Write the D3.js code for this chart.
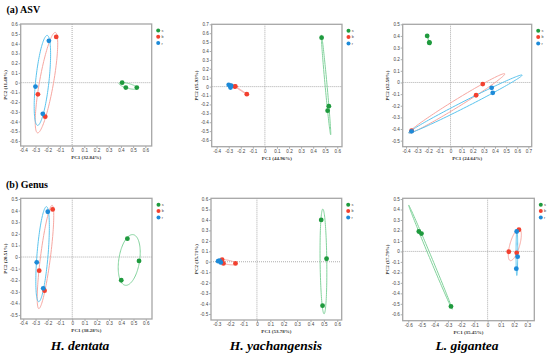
<!DOCTYPE html>
<html>
<head>
<meta charset="utf-8">
<script src="https://cdnjs.cloudflare.com/ajax/libs/d3/7.8.5/d3.min.js"></script>
<style>
  body { margin: 0; background: #fff; }
  svg { display: block; }
</style>
</head>
<body>
<div id="chart"></div>
<script>
// groups (legend)
var groups = ["s", "b", "r"];
var groupColors = ["#1f9a3e", "#f2402f", "#1d8ad8"];
var ellipseColors = ["#82d39c", "#f7a7a1", "#5cc4ee"];

// points: [group, PC1, PC2]
var asvDentata = [
  ["s", 0.41, 0.00], ["s", 0.44, -0.05], ["s", 0.53, -0.05],
  ["b", -0.13, 0.47], ["b", -0.28, -0.12], ["b", -0.22, -0.35],
  ["r", -0.19, 0.43], ["r", -0.30, -0.04], ["r", -0.24, -0.32]
];
var asvYachang = [
  ["s", 0.47, 0.55], ["s", 0.53, -0.22], ["s", 0.52, -0.27],
  ["b", -0.25, 0.00], ["b", -0.245, 0.003], ["b", -0.15, -0.085],
  ["r", -0.30, 0.02], ["r", -0.28, 0.01], ["r", -0.285, -0.01]
];
var asvGigantea = [
  ["s", -0.21, 0.40], ["s", -0.19, 0.34], ["s", -0.19, 0.345],
  ["b", 0.29, -0.014], ["b", 0.23, -0.11], ["b", -0.35, -0.415],
  ["r", 0.37, -0.046], ["r", 0.38, -0.089], ["r", -0.35, -0.42]
];
var genDentata = [
  ["s", 0.45, 0.158], ["s", 0.545, -0.034], ["s", 0.40, -0.20],
  ["b", -0.16, 0.41], ["b", -0.27, -0.118], ["b", -0.226, -0.29],
  ["r", -0.20, 0.39], ["r", -0.29, -0.046], ["r", -0.237, -0.27]
];
var genYachang = [
  ["s", 0.48, 0.40], ["s", 0.52, 0.029], ["s", 0.49, -0.42],
  ["b", -0.26, 0.02], ["b", -0.25, -0.016], ["b", -0.16, -0.016],
  ["r", -0.28, 0.01], ["r", -0.27, -0.006], ["r", -0.29, 0.006]
];
var genGigantea = [
  ["s", -0.52, 0.19], ["s", -0.50, 0.17], ["s", -0.277, -0.525],
  ["b", 0.237, 0.207], ["b", 0.16, -0.003], ["b", 0.22, -0.013],
  ["r", 0.22, 0.19], ["r", 0.227, -0.05], ["r", 0.217, -0.165]
];

// tick labels
var xTicks1 = [-0.4, -0.3, -0.2, -0.1, 0, 0.1, 0.2, 0.3, 0.4, 0.5, 0.6];
var yTicks1 = [0.6, 0.5, 0.4, 0.3, 0.2, 0.1, 0, -0.1, -0.2, -0.3, -0.4, -0.5, -0.6];
var xTicks2 = [-0.4, -0.3, -0.2, -0.1, 0, 0.1, 0.2, 0.3, 0.4, 0.5, 0.6];
var yTicks2 = [0.7, 0.6, 0.5, 0.4, 0.3, 0.2, 0.1, 0, -0.1, -0.2, -0.3, -0.4, -0.5, -0.6];
var xTicks3 = [-0.4, -0.3, -0.2, -0.1, 0, 0.1, 0.2, 0.3, 0.4, 0.5, 0.6, 0.7];
var yTicks3 = [0.5, 0.4, 0.3, 0.2, 0.1, 0, -0.1, -0.2, -0.3, -0.4, -0.5];
var xTicks4 = [-0.4, -0.3, -0.2, -0.1, 0, 0.1, 0.2, 0.3, 0.4, 0.5, 0.6];
var yTicks4 = [0.5, 0.4, 0.3, 0.2, 0.1, 0, -0.1, -0.2, -0.3, -0.4, -0.5];
var xTicks5 = [-0.3, -0.2, -0.1, 0, 0.1, 0.2, 0.3, 0.4, 0.5, 0.6];
var yTicks5 = [0.6, 0.5, 0.4, 0.3, 0.2, 0.1, 0, -0.1, -0.2, -0.3, -0.4, -0.5];
var xTicks6 = [-0.6, -0.5, -0.4, -0.3, -0.2, -0.1, 0, 0.1, 0.2, 0.3];
var yTicks6 = [0.5, 0.4, 0.3, 0.2, 0.1, 0, -0.1, -0.2, -0.3, -0.4, -0.5, -0.6];

var xLabels = ["PC1 (32.84%)", "PC1 (44.96%)", "PC1 (24.64%)", "PC1 (38.28%)", "PC1 (53.78%)", "PC1 (35.45%)"];
var yLabels = ["PC2 (11.48%)", "PC2 (15.93%)", "PC2 (12.58%)", "PC2 (20.51%)", "PC2 (15.71%)", "PC2 (17.79%)"];
var species = ["H. dentata", "H. yachangensis", "L. gigantea"];

var w = 550, h = 353;
var svg = d3.select("#chart").append("svg")
    .attr("width", w)
    .attr("height", h);

// panel layout: frame box and axis domains
var panels = [
  { data: asvDentata, xt: xTicks1, yt: yTicks1, box: [20.7, 24, 131, 122], xd: [-0.421, 0.652], yd: [-0.651, 0.603] },
  { data: asvYachang, xt: xTicks2, yt: yTicks2, box: [211.7, 24.3, 130.3, 122.4], xd: [-0.441, 0.639], yd: [-0.675, 0.7] },
  { data: asvGigantea, xt: xTicks3, yt: yTicks3, box: [402.7, 24.3, 129, 122.4], xd: [-0.43, 0.73], yd: [-0.552, 0.5] },
  { data: genDentata, xt: xTicks4, yt: yTicks4, box: [20.7, 198.3, 131.3, 120.7], xd: [-0.421, 0.651], yd: [-0.534, 0.506] },
  { data: genYachang, xt: xTicks5, yt: yTicks5, box: [211, 198.3, 130.7, 121.7], xd: [-0.343, 0.633], yd: [-0.557, 0.607] },
  { data: genGigantea, xt: xTicks6, yt: yTicks6, box: [402.7, 198.3, 131.6, 122.4], xd: [-0.642, 0.353], yd: [-0.661, 0.507] }
];

function fmt(d) {
    if (Math.abs(d) < 1e-9) return "0";
    return d.toFixed(1);
}

// confidence-style ellipse from the points of one group
function ellipsePoints(pts, k) {
    var n = pts.length;
    var mx = d3.mean(pts, function(p) { return p[1]; });
    var my = d3.mean(pts, function(p) { return p[2]; });
    var sxx = 0, syy = 0, sxy = 0;
    pts.forEach(function(p) {
        sxx += (p[1] - mx) * (p[1] - mx);
        syy += (p[2] - my) * (p[2] - my);
        sxy += (p[1] - mx) * (p[2] - my);
    });
    sxx /= (n - 1); syy /= (n - 1); sxy /= (n - 1);
    var tr = sxx + syy, det = sxx * syy - sxy * sxy;
    var disc = Math.sqrt(Math.max(tr * tr / 4 - det, 0));
    var l1 = tr / 2 + disc, l2 = Math.max(tr / 2 - disc, 0);
    var ang = Math.abs(sxy) < 1e-12 ? (sxx >= syy ? 0 : Math.PI / 2) : Math.atan2(l1 - sxx, sxy);
    var a = k * Math.sqrt(l1), b = k * Math.sqrt(l2);
    var out = [];
    for (var i = 0; i <= 120; i++) {
        var t = i / 120 * 2 * Math.PI;
        var ex = a * Math.cos(t), ey = b * Math.sin(t);
        out.push([mx + ex * Math.cos(ang) - ey * Math.sin(ang), my + ex * Math.sin(ang) + ey * Math.cos(ang)]);
    }
    return out;
}

panels.forEach(function(p, i) {
    var bx = p.box[0], by = p.box[1], bw = p.box[2], bh = p.box[3];
    var x = d3.scaleLinear().domain(p.xd).range([bx, bx + bw]);
    var y = d3.scaleLinear().domain(p.yd).range([by + bh, by]);
    var g = svg.append("g");

    // zero lines
    g.append("line")
        .attr("x1", x(0)).attr("x2", x(0))
        .attr("y1", by).attr("y2", by + bh)
        .attr("stroke", "#999").attr("stroke-width", 0.8)
        .attr("stroke-dasharray", "1,1");
    g.append("line")
        .attr("x1", bx).attr("x2", bx + bw)
        .attr("y1", y(0)).attr("y2", y(0))
        .attr("stroke", "#999").attr("stroke-width", 0.8)
        .attr("stroke-dasharray", "1,1");

    // axes
    var xAxis = d3.axisBottom(x).tickValues(p.xt).tickFormat(fmt).tickSize(2).tickSizeOuter(0);
    var yAxis = d3.axisLeft(y).tickValues(p.yt).tickFormat(fmt).tickSize(2).tickSizeOuter(0);
    var gx = g.append("g").attr("transform", "translate(0," + (by + bh) + ")").call(xAxis);
    var gy = g.append("g").attr("transform", "translate(" + bx + ",0)").call(yAxis);
    [gx, gy].forEach(function(ax) {
        ax.select(".domain").remove();
        ax.selectAll("line").attr("stroke", "#777").attr("stroke-width", 0.6);
        ax.selectAll("text")
            .attr("font-family", "Liberation Sans, Arial, sans-serif")
            .attr("font-size", "4.6px")
            .attr("fill", "#444");
    });
    gx.selectAll("text").attr("dy", "0.9em").attr("y", 2.2);
    gy.selectAll("text").attr("x", -2.8);

    // frame
    g.append("rect")
        .attr("x", bx).attr("y", by)
        .attr("width", bw).attr("height", bh)
        .attr("fill", "none")
        .attr("stroke", "#a6a6a6")
        .attr("stroke-width", 1.3);

    // ellipses
    var line = d3.line()
        .x(function(d) { return x(d[0]); })
        .y(function(d) { return y(d[1]); });
    groups.forEach(function(grp, gi) {
        var pts = p.data.filter(function(d) { return d[0] === grp; });
        g.append("path")
            .attr("d", line(ellipsePoints(pts, 1.22)))
            .attr("fill", "none")
            .attr("stroke", ellipseColors[gi])
            .attr("stroke-width", 1);
    });

    // points
    g.selectAll("circle.pt")
        .data(p.data)
        .enter()
        .append("circle")
        .attr("class", "pt")
        .attr("cx", function(d) { return x(d[1]); })
        .attr("cy", function(d) { return y(d[2]); })
        .attr("r", 2.4)
        .attr("fill", function(d) { return groupColors[groups.indexOf(d[0])]; });

    // axis titles
    g.append("text")
        .attr("x", bx + bw / 2)
        .attr("y", by + bh + 13)
        .attr("text-anchor", "middle")
        .attr("font-family", "Liberation Serif, Times New Roman, serif")
        .attr("font-weight", "bold")
        .attr("font-size", "5px")
        .attr("fill", "#333")
        .text(xLabels[i]);
    g.append("text")
        .attr("transform", "translate(" + (bx - 13.5) + "," + (by + bh / 2) + ") rotate(-90)")
        .attr("text-anchor", "middle")
        .attr("font-family", "Liberation Serif, Times New Roman, serif")
        .attr("font-weight", "bold")
        .attr("font-size", "5px")
        .attr("fill", "#333")
        .text(yLabels[i]);

    // legend
    var lg = g.append("g").attr("transform", "translate(" + (bx + bw + 6.5) + "," + (by + 6.5) + ")");
    groups.forEach(function(grp, gi) {
        lg.append("circle")
            .attr("cx", 0).attr("cy", gi * 6.3)
            .attr("r", 2)
            .attr("fill", groupColors[gi]);
        lg.append("text")
            .attr("x", 3.3).attr("y", gi * 6.3 + 1.4)
            .attr("font-family", "Liberation Sans, Arial, sans-serif")
            .attr("font-size", "3.8px")
            .attr("fill", "#444")
            .text(grp);
    });
});

// section titles
svg.append("text")
    .attr("x", 6.5).attr("y", 13)
    .attr("font-family", "Liberation Serif, Times New Roman, serif")
    .attr("font-weight", "bold")
    .attr("font-size", "10px")
    .text("(a) ASV");
svg.append("text")
    .attr("x", 6).attr("y", 188)
    .attr("font-family", "Liberation Serif, Times New Roman, serif")
    .attr("font-weight", "bold")
    .attr("font-size", "10px")
    .text("(b) Genus");

// species names under columns
var speciesX = [80, 276, 467];
svg.selectAll("text.sp")
    .data(species)
    .enter()
    .append("text")
    .attr("class", "sp")
    .attr("x", function(d, i) { return speciesX[i]; })
    .attr("y", 349.5)
    .attr("text-anchor", "middle")
    .attr("font-family", "Liberation Serif, Times New Roman, serif")
    .attr("font-weight", "bold")
    .attr("font-style", "italic")
    .attr("font-size", "13.5px")
    .text(function(d) { return d; });
</script>
</body>
</html>
